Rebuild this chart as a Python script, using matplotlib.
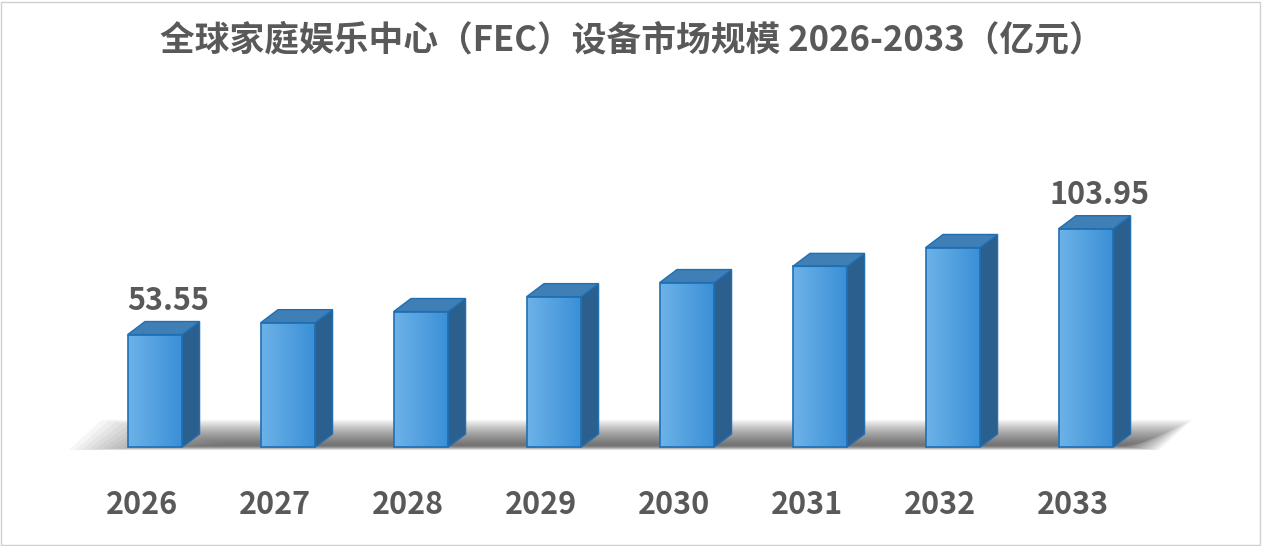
import numpy as np
import matplotlib
matplotlib.use("Agg")
import matplotlib.pyplot as plt
from matplotlib.patches import Polygon, Rectangle
from matplotlib.colors import LinearSegmentedColormap

plt.rcParams['font.family'] = ['Noto Sans CJK SC', 'DejaVu Sans']

# ── data ──────────────────────────────────────────────────────────────────────
years = ["2026", "2027", "2028", "2029", "2030", "2031", "2032", "2033"]
values = [53.55, 59.2, 64.5, 71.6, 78.3, 86.0, 95.0, 103.95]
labelled = {0: "53.55", 7: "103.95"}
title = "全球家庭娱乐中心（FEC）设备市场规模 2026-2033（亿元）"

W, H = 1263, 546
fig = plt.figure(figsize=(W / 100, H / 100), dpi=100)
ax = fig.add_axes([0, 0, 1, 1])
ax.set_xlim(-155 / 133, (W - 155) / 133)
ax.set_ylim(-99 / 2.1, 447 / 2.1)
ax.axis("off")

bw = 0.41       # bar width
dx, dy = 0.13, 6.2   # depth offset
grey = "#595959"

# floor shadow (soft)
for k in range(20):
    s = k * 0.05
    ax.add_patch(Polygon([(-0.65 + s, -1.5 + k * 0.1), (7.55 - s * 0.3, -1.5 + k * 0.1),
                          (7.8 - s * 0.4, 13 - k * 0.6), (-0.4 + s, 13 - k * 0.6)],
                         closed=True, color="black", alpha=0.035, lw=0, zorder=1))

cmap = LinearSegmentedColormap.from_list("b", ["#6cb2e8", "#3a8fd6"])
grad = np.linspace(0, 1, 64).reshape(1, -1)
for i, v in enumerate(values):
    x0 = i - bw / 2
    x1 = i + bw / 2
    rect = Rectangle((x0, 0), bw, v, facecolor="none", edgecolor="#1f6fb5", lw=1.2, zorder=4)
    ax.add_patch(rect)
    im = ax.imshow(grad, cmap=cmap, extent=(x0, x1, 0, v), aspect="auto", zorder=3)
    im.set_clip_path(rect)
    ax.add_patch(Polygon([(x1, 0), (x1 + dx, dy), (x1 + dx, v + dy), (x1, v)],
                         closed=True, facecolor="#2b5f8e", edgecolor="#1f6fb5", lw=1, zorder=3))
    ax.add_patch(Polygon([(x0, v), (x1, v), (x1 + dx, v + dy), (x0 + dx, v + dy)],
                         closed=True, facecolor="#3f7fb6", edgecolor="#1f6fb5", lw=1, zorder=3))
    ax.text(i - 0.1, -27.5, years[i], ha="center", va="center", fontsize=22,
            fontweight="bold", color=grey)
    if i in labelled:
        ax.text(i + 0.1, v + 16, labelled[i], ha="center", va="center", fontsize=22,
                fontweight="bold", color=grey)

fig.text(0.5, 1 - 40 / H, title, ha="center", va="center", fontsize=25,
         fontweight="bold", color=grey)
fig.add_artist(Rectangle((0.001, 0.002), 0.997, 0.995, transform=fig.transFigure,
                         fill=False, edgecolor="#d0d0d0", lw=1))

fig.savefig("out.png", dpi=100, facecolor="white")
